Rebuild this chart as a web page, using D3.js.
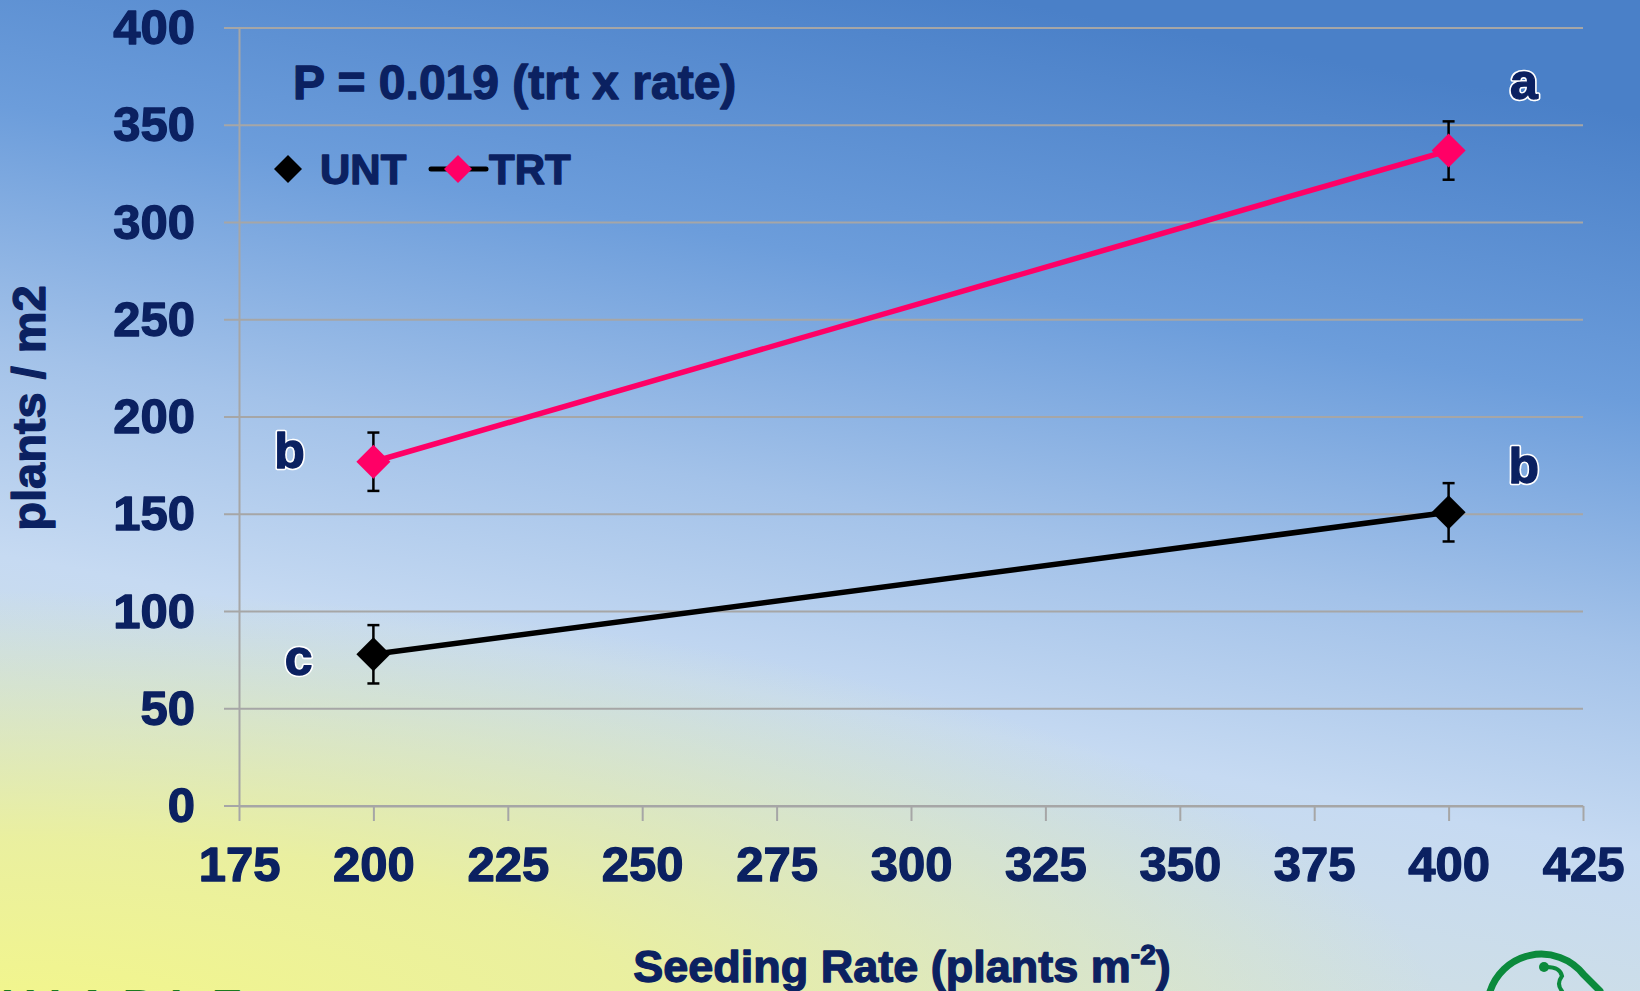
<!DOCTYPE html>
<html>
<head>
<meta charset="utf-8">
<script src="https://cdn.jsdelivr.net/npm/d3@7"></script>
<style>
  body { margin: 0; overflow: hidden; }
  text { font-family: "Liberation Sans", Arial, sans-serif; font-weight: bold; }
  .heavy { stroke: #0b2161; stroke-width: 1.3px; stroke-linejoin: round; }
</style>
</head>
<body>
<script>
const W = 1640, H = 991
const margin = {top: 28, right: 57, bottom: 185, left: 239}
const width = W - margin.left - margin.right
const height = H - margin.top - margin.bottom
const fontFam = '"Liberation Sans", Arial, sans-serif'

// data
const rates = [200, 400]
const untMeans = [78, 151]
const untErr = [15, 15]
const trtMeans = [177, 337]
const trtErr = [15, 15]
const xTicks = [175, 200, 225, 250, 275, 300, 325, 350, 375, 400, 425]
const yTicks = [0, 50, 100, 150, 200, 250, 300, 350, 400]
// significance letters (placed in data units)
const letters = ['a', 'b', 'b', 'c']
const letterX = [414, 414, 184.4, 186.1]
const letterY = [363.5, 166, 173.8, 67.4]

const navy = '#0b2161'
const pink = '#ff0066'
const grid = '#a6a6a6'

const svg = d3.select('body').append('svg')
    .attr('width', W)
    .attr('height', H)

// slide background
const defs = svg.append('defs')
const lg = defs.append('linearGradient')
    .attr('id', 'bg')
    .attr('gradientUnits', 'userSpaceOnUse')
    .attr('x1', 1000).attr('y1', 0).attr('x2', 820).attr('y2', 991)
lg.selectAll('stop')
  .data([[0, '#4a80c8'], [0.28, '#6c9ddb'], [0.52, '#a3c2e9'], [0.72, '#c6daf2'], [1, '#d2e1e0']])
  .enter().append('stop')
    .attr('offset', d => d[0])
    .attr('stop-color', d => d[1])
const rg = defs.append('radialGradient')
    .attr('id', 'glow')
    .attr('gradientUnits', 'userSpaceOnUse')
    .attr('cx', 0).attr('cy', 0).attr('r', 1)
    .attr('gradientTransform', 'translate(0,1040) scale(1450,450)')
rg.selectAll('stop')
  .data([[0, '#f4f788', 1], [0.45, '#eef294', 0.85], [1, '#e8eea0', 0]])
  .enter().append('stop')
    .attr('offset', d => d[0])
    .attr('stop-color', d => d[1])
    .attr('stop-opacity', d => d[2])
svg.append('rect').attr('width', W).attr('height', H).attr('fill', 'url(#bg)')
svg.append('rect').attr('width', W).attr('height', H).attr('fill', 'url(#glow)')

const x = d3.scaleLinear().domain([175, 425]).range([margin.left, margin.left + width])
const y = d3.scaleLinear().domain([0, 400]).range([margin.top + height, margin.top])

// gridlines (extend 15px left of the axis like tick marks)
svg.append('g').selectAll('line')
  .data(yTicks)
  .enter().append('line')
    .attr('x1', margin.left - 15)
    .attr('x2', margin.left + width)
    .attr('y1', d => y(d))
    .attr('y2', d => y(d))
    .attr('stroke', grid)
    .attr('stroke-width', 2)

// y axis
const yAxis = svg.append('g')
    .attr('transform', 'translate(' + margin.left + ',0)')
    .call(d3.axisLeft(y).tickValues(yTicks).tickSize(0).tickPadding(44))
yAxis.select('.domain').attr('stroke', grid).attr('stroke-width', 2)
yAxis.selectAll('text')
    .attr('class', 'heavy')
    .attr('fill', navy)
    .attr('font-size', '49px')
    .attr('font-family', fontFam)
    .attr('font-weight', 'bold')

// x axis
const xAxis = svg.append('g')
    .attr('transform', 'translate(0,' + (margin.top + height) + ')')
    .call(d3.axisBottom(x).tickValues(xTicks).tickSize(15).tickSizeOuter(0).tickPadding(25))
xAxis.select('.domain').attr('stroke', grid).attr('stroke-width', 2)
xAxis.selectAll('.tick line').attr('stroke', grid).attr('stroke-width', 2)
xAxis.selectAll('text')
    .attr('class', 'heavy')
    .attr('fill', navy)
    .attr('font-size', '49px')
    .attr('font-family', fontFam)
    .attr('font-weight', 'bold')

// axis titles
svg.append('text')
    .attr('class', 'heavy')
    .attr('transform', 'translate(45,408) rotate(-90)')
    .attr('text-anchor', 'middle')
    .attr('font-size', '47px')
    .attr('fill', navy)
    .text('plants / m2')

const xt = svg.append('text')
    .attr('class', 'heavy')
    .attr('x', 902)
    .attr('y', 982)
    .attr('text-anchor', 'middle')
    .attr('font-size', '45px')
    .attr('fill', navy)
xt.append('tspan').text('Seeding Rate (plants m')
xt.append('tspan').attr('font-size', '28px').attr('dy', -18).text('-2')
xt.append('tspan').attr('dy', 18).text(')')

// series
const series = [
  {name: 'UNT', color: '#000000', means: untMeans, err: untErr},
  {name: 'TRT', color: pink, means: trtMeans, err: trtErr}
]

const line = d3.line()
    .x(d => x(d.rate))
    .y(d => y(d.mean))

const diamond = (cx, cy, r) => 'M' + cx + ',' + (cy - r) + 'L' + (cx + r) + ',' + cy +
    'L' + cx + ',' + (cy + r) + 'L' + (cx - r) + ',' + cy + 'Z'

series.forEach(s => {
  const pts = rates.map((r, i) => ({rate: r, mean: s.means[i], err: s.err[i]}))
  const g = svg.append('g')
  g.append('path')
      .datum(pts)
      .attr('d', line)
      .attr('fill', 'none')
      .attr('stroke', s.color)
      .attr('stroke-width', 5.5)
  // error bars
  const eb = g.selectAll('.eb').data(pts).enter().append('g')
  eb.append('line')
      .attr('x1', d => x(d.rate)).attr('x2', d => x(d.rate))
      .attr('y1', d => y(d.mean + d.err)).attr('y2', d => y(d.mean - d.err))
      .attr('stroke', '#000').attr('stroke-width', 2.5)
  eb.append('line')
      .attr('x1', d => x(d.rate) - 6).attr('x2', d => x(d.rate) + 6)
      .attr('y1', d => y(d.mean + d.err)).attr('y2', d => y(d.mean + d.err))
      .attr('stroke', '#000').attr('stroke-width', 2.5)
  eb.append('line')
      .attr('x1', d => x(d.rate) - 6).attr('x2', d => x(d.rate) + 6)
      .attr('y1', d => y(d.mean - d.err)).attr('y2', d => y(d.mean - d.err))
      .attr('stroke', '#000').attr('stroke-width', 2.5)
  g.selectAll('.pt').data(pts).enter().append('path')
      .attr('d', d => diamond(x(d.rate), y(d.mean), 17))
      .attr('fill', s.color)
})

// significance letters (white outline, navy core drawn on top)
const lt = svg.append('g')
lt.selectAll('.halo')
  .data(letters)
  .enter().append('text')
    .attr('x', (d, i) => x(letterX[i]))
    .attr('y', (d, i) => y(letterY[i]))
    .attr('text-anchor', 'middle')
    .attr('font-size', '50px')
    .attr('fill', '#ffffff')
    .attr('stroke', '#ffffff')
    .attr('stroke-width', 4.5)
    .attr('stroke-linejoin', 'round')
    .text(d => d)
lt.selectAll('.core')
  .data(letters)
  .enter().append('text')
    .attr('x', (d, i) => x(letterX[i]))
    .attr('y', (d, i) => y(letterY[i]))
    .attr('text-anchor', 'middle')
    .attr('font-size', '50px')
    .attr('fill', navy)
    .attr('stroke', navy)
    .attr('stroke-width', 1.3)
    .attr('stroke-linejoin', 'round')
    .text(d => d)

// p-value note
svg.append('text')
    .attr('class', 'heavy')
    .attr('x', 293)
    .attr('y', 99)
    .attr('font-size', '48px')
    .attr('fill', navy)
    .text('P = 0.019 (trt x rate)')

// legend
const leg = svg.append('g')
leg.append('path').attr('d', diamond(288, 169, 14)).attr('fill', '#000')
leg.append('text').attr('class', 'heavy').attr('x', 320).attr('y', 184).attr('font-size', '42px').attr('fill', navy).text('UNT')
leg.append('line').attr('x1', 431).attr('x2', 486).attr('y1', 169).attr('y2', 169)
    .attr('stroke', '#000').attr('stroke-width', 5).attr('stroke-linecap', 'round')
leg.append('path').attr('d', diamond(458, 169, 14)).attr('fill', pink)
leg.append('text').attr('class', 'heavy').attr('x', 489).attr('y', 184).attr('font-size', '42px').attr('fill', navy).text('TRT')

// slide decorations, cut by the frame
svg.append('text')
    .attr('x', 0)
    .attr('y', 1022)
    .attr('font-size', '46px')
    .attr('font-style', 'italic')
    .attr('letter-spacing', '14px')
    .attr('fill', '#1b7a1e')
    .text('VIABLE')
const logo = svg.append('g').attr('fill', 'none').attr('stroke', '#0b8a3c').attr('stroke-linecap', 'round')
logo.append('path')
    .attr('d', 'M1489,995 A54,54 0 0 1 1584,975 L1600,991')
    .attr('stroke-width', 7)
logo.append('path')
    .attr('d', 'M1544,967 Q1560,966 1562,976 Q1556,984 1562,991')
    .attr('stroke-width', 4)
logo.append('circle').attr('cx', 1544).attr('cy', 967).attr('r', 5).attr('fill', '#0b8a3c').attr('stroke', 'none')
</script>
</body>
</html>
